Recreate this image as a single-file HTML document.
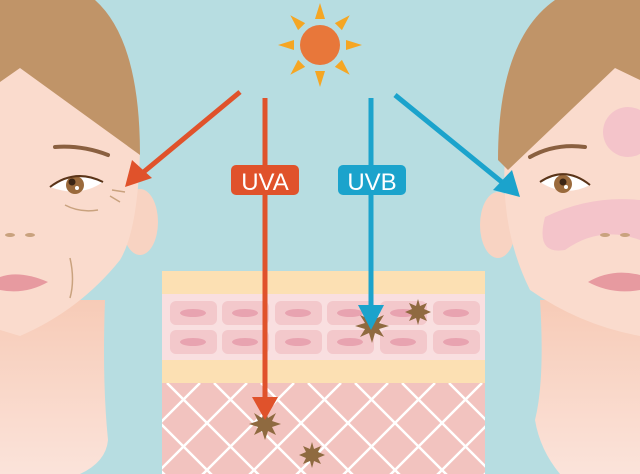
<!DOCTYPE html>
<html><head><meta charset="utf-8"><style>html,body{margin:0;padding:0;background:#b7dde1}svg{display:block}</style></head>
<body>
<svg width="640" height="474" viewBox="0 0 640 474" xmlns="http://www.w3.org/2000/svg">
<defs>
<linearGradient id="neck" x1="0" y1="0" x2="0" y2="1"><stop offset="0" stop-color="#f7cbb7"/><stop offset="1" stop-color="#fbe3da"/></linearGradient>
<clipPath id="derm"><rect x="162" y="383" width="323" height="91"/></clipPath>
</defs>
<rect width="640" height="474" fill="#b7dde1"/>
<!-- LEFT FACE -->
<path d="M0 300 L105 300 Q102 380 108 440 Q106 462 80 474 L0 474Z" fill="url(#neck)"/>
<ellipse cx="140" cy="222" rx="18" ry="33" fill="#f8d3c2"/>
<path d="M0 70 L20 68 L140 150 Q138 230 120 260 Q80 310 20 336 L0 330Z" fill="#fadbcd"/>
<path d="M0 0 L95 0 Q140 40 140 155 L20 68 L0 82Z" fill="#c09468"/>
<path d="M55 147 Q82 145 108 155" fill="none" stroke="#8a6040" stroke-width="4" stroke-linecap="round"/>
<path d="M50 187 Q75 168 103 182 Q80 198 50 187Z" fill="#fff"/>
<circle cx="75" cy="185" r="9" fill="#9a6a3c"/><circle cx="72" cy="182" r="3.5" fill="#3a2515"/><circle cx="77" cy="188" r="2" fill="#fff"/>
<path d="M50 187 Q75 168 103 182" fill="none" stroke="#5a3418" stroke-width="2"/>
<path d="M65 205 Q80 213 98 210 M112 190 L125 192 M110 196 L120 202 M70 258 Q75 280 70 298" fill="none" stroke="#c9a27e" stroke-width="1.5"/>
<ellipse cx="10" cy="235" rx="5" ry="2" fill="#c9a27e"/><ellipse cx="30" cy="235" rx="5" ry="2" fill="#c9a27e"/>
<path d="M0 277 Q20 270 48 282 Q25 295 0 290Z" fill="#e79aa0"/>
<!-- RIGHT FACE -->
<path d="M640 300 L540 300 Q545 380 535 420 Q540 450 560 474 L640 474Z" fill="url(#neck)"/>
<ellipse cx="498" cy="225" rx="18" ry="33" fill="#f8d3c2"/>
<path d="M640 68 L615 68 L505 155 Q500 230 530 290 Q580 325 640 336Z" fill="#fadbcd"/>
<path d="M640 0 L555 0 Q498 40 498 160 L508 170 L615 68 L640 80Z" fill="#c09468"/>
<circle cx="628" cy="132" r="25" fill="#f4c4ca"/>
<path d="M545 217 Q590 195 640 200 L640 240 Q600 225 565 250 Q535 255 545 217Z" fill="#f4c4ca"/>
<path d="M530 157 Q555 143 585 147" fill="none" stroke="#8a6040" stroke-width="4" stroke-linecap="round"/>
<path d="M540 182 Q565 165 590 185 Q565 198 540 182Z" fill="#fff"/>
<circle cx="563" cy="184" r="9" fill="#9a6a3c"/><circle cx="563" cy="182" r="3.5" fill="#3a2515"/><circle cx="566" cy="187" r="2" fill="#fff"/>
<path d="M540 182 Q565 165 590 185" fill="none" stroke="#5a3418" stroke-width="2"/>
<ellipse cx="605" cy="235" rx="5" ry="2" fill="#c9a27e"/><ellipse cx="625" cy="235" rx="5" ry="2" fill="#c9a27e"/>
<path d="M588 282 Q612 268 640 275 L640 290 Q612 295 588 282Z" fill="#e79aa0"/>
<!-- SKIN LAYERS -->
<rect x="162" y="271" width="323" height="203" fill="#fce0b3"/>
<rect x="162" y="294" width="323" height="66" fill="#f9dfe0"/>
<g fill="#f3c8cb">
<rect x="170" y="301" width="47" height="24" rx="6"/><rect x="222" y="301" width="47" height="24" rx="6"/><rect x="275" y="301" width="47" height="24" rx="6"/><rect x="327" y="301" width="47" height="24" rx="6"/><rect x="380" y="301" width="47" height="24" rx="6"/><rect x="433" y="301" width="47" height="24" rx="6"/>
<rect x="170" y="330" width="47" height="24" rx="6"/><rect x="222" y="330" width="47" height="24" rx="6"/><rect x="275" y="330" width="47" height="24" rx="6"/><rect x="327" y="330" width="47" height="24" rx="6"/><rect x="380" y="330" width="47" height="24" rx="6"/><rect x="433" y="330" width="47" height="24" rx="6"/>
</g>
<g fill="#e8a3b0">
<ellipse cx="193" cy="313" rx="13" ry="4"/><ellipse cx="245" cy="313" rx="13" ry="4"/><ellipse cx="298" cy="313" rx="13" ry="4"/><ellipse cx="350" cy="313" rx="13" ry="4"/><ellipse cx="403" cy="313" rx="13" ry="4"/><ellipse cx="456" cy="313" rx="13" ry="4"/>
<ellipse cx="193" cy="342" rx="13" ry="4"/><ellipse cx="245" cy="342" rx="13" ry="4"/><ellipse cx="298" cy="342" rx="13" ry="4"/><ellipse cx="350" cy="342" rx="13" ry="4"/><ellipse cx="403" cy="342" rx="13" ry="4"/><ellipse cx="456" cy="342" rx="13" ry="4"/>
</g>
<rect x="162" y="383" width="323" height="91" fill="#f2c3bf"/>
<g clip-path="url(#derm)" stroke="#fff" stroke-width="2.5">
<path d="M120 383 L220 483 M167 383 L267 483 M214 383 L314 483 M261 383 L361 483 M308 383 L408 483 M355 383 L455 483 M402 383 L502 483 M449 383 L549 483 M73 383 L173 483"/>
<path d="M200 383 L100 483 M247 383 L147 483 M294 383 L194 483 M341 383 L241 483 M388 383 L288 483 M435 383 L335 483 M482 383 L382 483 M529 383 L429 483 M576 383 L476 483"/>
</g>
<!-- SUN -->
<g fill="#f5a623" transform="translate(320,45)">
<polygon points="-5,-26 5,-26 0,-42"/><polygon points="-5,26 5,26 0,42"/><polygon points="-26,-5 -26,5 -42,0"/><polygon points="26,-5 26,5 42,0"/>
<g transform="rotate(45)"><polygon points="-5,-26 5,-26 0,-42"/><polygon points="-5,26 5,26 0,42"/><polygon points="-26,-5 -26,5 -42,0"/><polygon points="26,-5 26,5 42,0"/></g>
</g>
<circle cx="320" cy="45" r="20" fill="#e8773a"/>
<!-- STARS -->
<g fill="#8f6a40">
<polygon points="265,410 268,418 276,413 272,421 281,424 272,427 276,435 268,431 265,440 262,431 254,435 258,427 249,424 258,421 254,413 262,418"/>
<polygon points="312,442 314,449 321,446 318,452 325,455 318,458 321,464 314,461 312,468 310,461 303,464 306,458 299,455 306,452 303,446 310,449"/>
<polygon points="372,312 375,319 384,315 379,323 389,326 379,329 384,337 375,333 372,343 369,333 360,337 365,329 355,326 365,323 360,315 369,319"/>
<polygon points="418,299 420,306 427,303 424,309 431,312 424,315 427,321 420,318 418,325 416,318 409,321 412,315 405,312 412,309 409,303 416,306"/>
</g>
<!-- UVA ARROWS -->
<g fill="#e0522b" stroke="#e0522b">
<line x1="240" y1="92" x2="140" y2="175" stroke-width="5"/>
<polygon points="125,187 132,160 152,178" stroke="none"/>
<line x1="265" y1="98" x2="265" y2="400" stroke-width="5"/>
<polygon points="252,397 278,397 265,420" stroke="none"/>
</g>
<rect x="231" y="165" width="68" height="30" rx="5" fill="#e0522b"/>
<text x="265" y="190" text-anchor="middle" font-family="Liberation Sans, sans-serif" font-size="24" fill="#fff">UVA</text>
<!-- UVB ARROWS -->
<g fill="#1ba3cc" stroke="#1ba3cc">
<line x1="395" y1="95" x2="508" y2="187" stroke-width="5"/>
<polygon points="520,197 493,190 512,170" stroke="none"/>
<line x1="371" y1="98" x2="371" y2="308" stroke-width="5"/>
<polygon points="358,305 384,305 371,330" stroke="none"/>
</g>
<rect x="338" y="165" width="68" height="30" rx="5" fill="#1ba3cc"/>
<text x="372" y="190" text-anchor="middle" font-family="Liberation Sans, sans-serif" font-size="24" fill="#fff">UVB</text>
</svg>
</body></html>
